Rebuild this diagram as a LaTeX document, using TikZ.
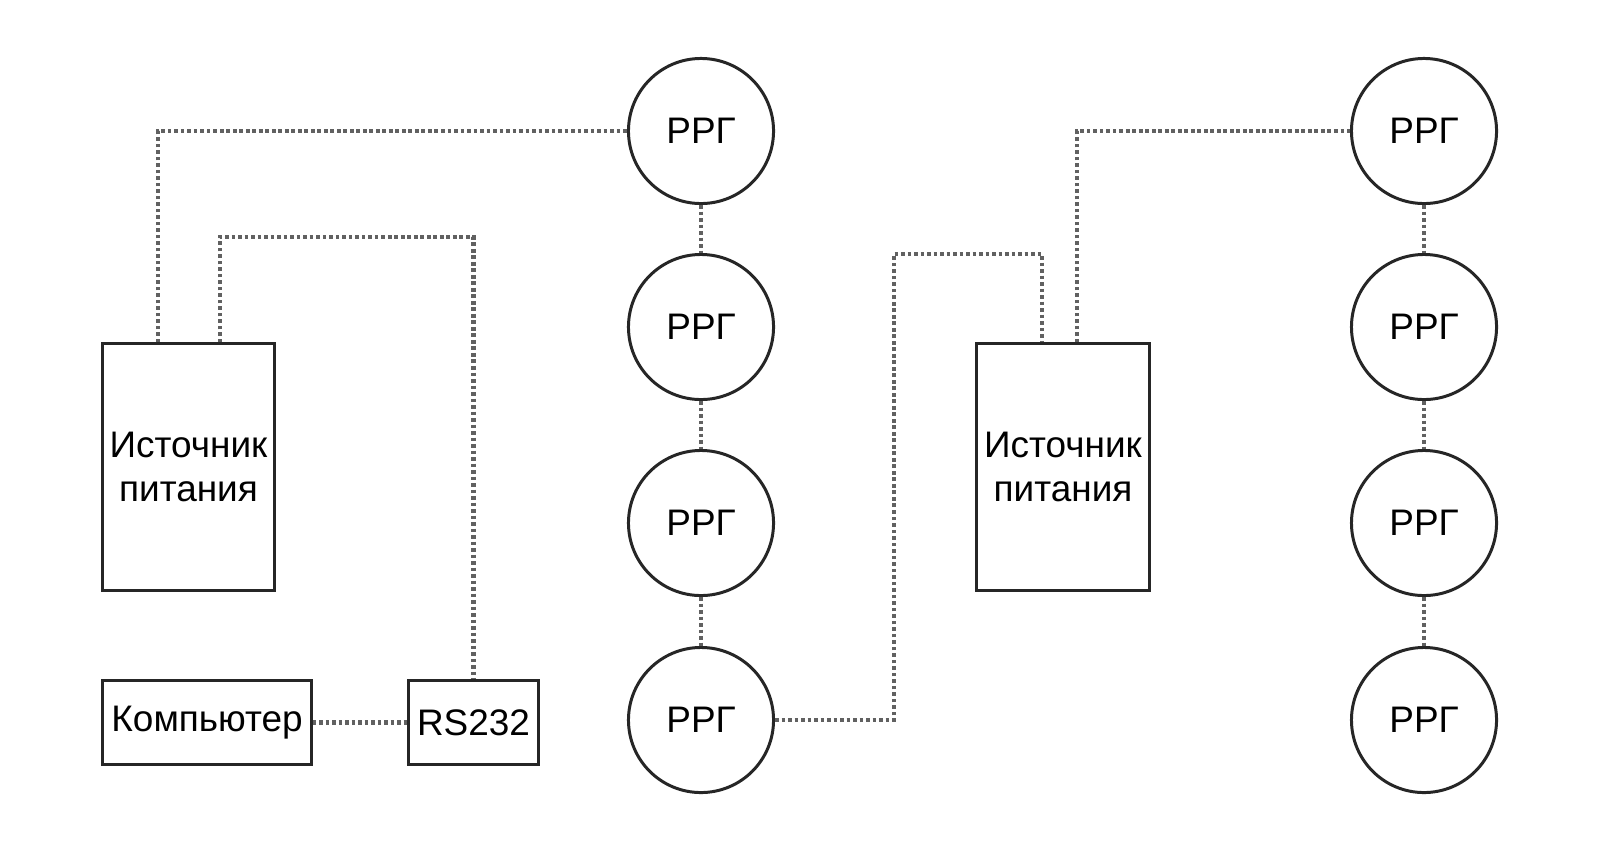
\documentclass[tikz,border=0pt]{standalone}
\usepackage{fontspec}
\setmainfont{Liberation Sans}
\begin{document}
\begin{tikzpicture}[x=0.01cm,y=-0.01cm,
  box/.style={draw=black!85,line width=0.85pt,inner sep=0pt,font=\fontsize{10.5}{12.5}\selectfont,align=center},
  rrg/.style={circle,draw=black!85,line width=0.85pt,minimum size=1.45cm,inner sep=0pt,font=\fontsize{10.5}{12.5}\selectfont},
  link/.style={draw=black!62,line width=1.2pt,dash pattern=on 1.05pt off 0.8pt}]
\useasboundingbox (0,0) rectangle (1600,863);
\fill[white] (0,0) rectangle (1600,863);
% left part
\node[box,minimum width=1.71cm,minimum height=2.46cm] (ps1) at (188.5,467) {Источник\\питания};
\node[box,minimum width=2.08cm,minimum height=0.83cm] (pc) at (207,722.5) {Компьютер};
\node[box,minimum width=1.29cm,minimum height=0.83cm] (rs) at (473.5,722.5) {RS232};
\node[rrg] (a1) at (701,131) {РРГ};
\node[rrg] (a2) at (701,327) {РРГ};
\node[rrg] (a3) at (701,523) {РРГ};
\node[rrg] (a4) at (701,720) {РРГ};
% right part
\node[box,minimum width=1.72cm,minimum height=2.46cm] (ps2) at (1063,467) {Источник\\питания};
\node[rrg] (b1) at (1424,131) {РРГ};
\node[rrg] (b2) at (1424,327) {РРГ};
\node[rrg] (b3) at (1424,523) {РРГ};
\node[rrg] (b4) at (1424,720) {РРГ};
% bend points
\coordinate (k1) at (158,131);
\coordinate (k2) at (220,237);
\coordinate (m1) at (894,254);
\coordinate (m2) at (1042,254);
\coordinate (m3) at (1077,131);
% connectors
\draw[link] (k1 |- ps1.north) -- (k1) -- (a1.west);
\draw[link] (k2 |- ps1.north) -- (k2) -- (rs.north |- k2) -- (rs.north);
\draw[link] (pc.east) -- (rs.west);
\draw[link] (a1.south) -- (a2.north);
\draw[link] (a2.south) -- (a3.north);
\draw[link] (a3.south) -- (a4.north);
\draw[link] (a4.east) -- (m1 |- a4.east) -- (m1) -- (m2) -- (m2 |- ps2.north);
\draw[link] (m3 |- ps2.north) -- (m3) -- (b1.west);
\draw[link] (b1.south) -- (b2.north);
\draw[link] (b2.south) -- (b3.north);
\draw[link] (b3.south) -- (b4.north);
\end{tikzpicture}
\end{document}
